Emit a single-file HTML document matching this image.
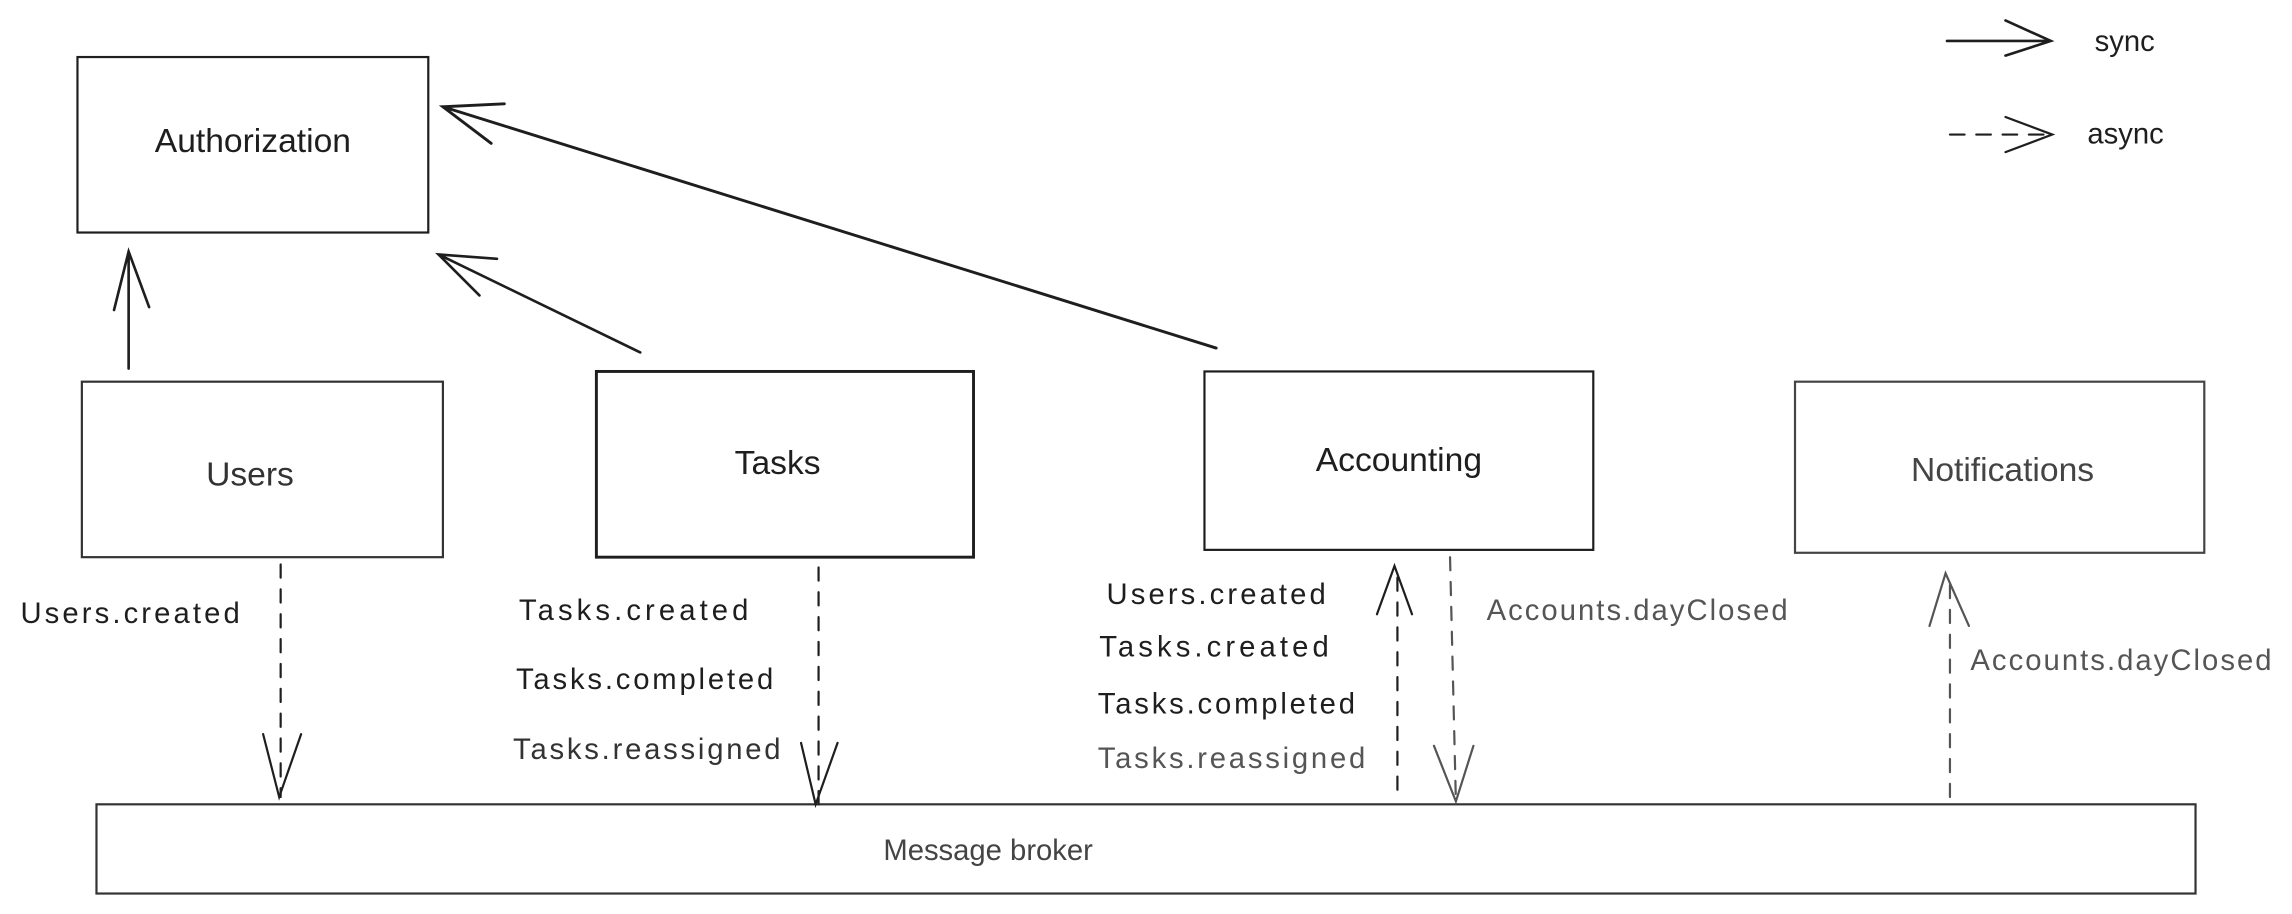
<!DOCTYPE html>
<html><head><meta charset="utf-8"><style>
html,body{margin:0;padding:0;background:#fff;}
svg{display:block}
text{font-family:"Liberation Sans",sans-serif;}
</style></head><body>
<svg width="2292" height="914" viewBox="0 0 1568 625" preserveAspectRatio="none" xmlns="http://www.w3.org/2000/svg">
<g fill="none" stroke="#1e1e1e" stroke-width="1.5" stroke-linecap="round">
<rect x="53" y="39" width="240" height="120"/>
<rect x="56" y="261" width="247" height="120" stroke="#333"/>
<rect x="408" y="254" width="258" height="127" stroke-width="2"/>
<rect x="824" y="254" width="266" height="122"/>
<rect x="1228" y="261" width="280" height="117" stroke="#444"/>
<rect x="66" y="550" width="1436" height="61" stroke="#333"/>
<path d="M88 252 L88 172 M78 212 L88 172 L102 210" stroke-width="1.8"/>
<path d="M438 241 L300 174 M340 177 L300 174 L328 202" stroke-width="1.8"/>
<path d="M832 238 L303 73 M345 71 L303 73 L336 98" stroke-width="2"/>
<g stroke-dasharray="9 8">
<path d="M192 386 L192 545"/>
<path d="M560 388 L560 550"/>
<path d="M956 540 L956 392"/>
<path d="M992 381 L996 548" stroke="#555"/>
<path d="M1334 545 L1334 394" stroke="#555"/>
<path d="M1334 92 L1402 92" stroke-dasharray="10 8"/>
</g>
<path d="M180 502 L191 545 L206 502"/>
<path d="M548 508 L558 550 L573 508"/>
<path d="M942 420 L954 387 L966 420"/>
<path d="M981 510 L996 548 L1008 510" stroke="#555"/>
<path d="M1320 428 L1331 392 L1347 428" stroke="#555"/>
<path d="M1332 28 L1402 28 M1372 14 L1403 28 L1372 38" stroke-width="1.8"/>
<path d="M1372 80 L1404 92 L1372 104"/>
</g>
<g font-size="20" fill="#1e1e1e">
<text x="173" y="104" text-anchor="middle" font-size="23">Authorization</text>
<text x="171" y="332" text-anchor="middle" fill="#333" font-size="23">Users</text>
<text x="532" y="324" text-anchor="middle" font-size="23">Tasks</text>
<text x="957" y="322" text-anchor="middle" font-size="23">Accounting</text>
<text x="1370" y="329" text-anchor="middle" fill="#444" font-size="23">Notifications</text>
<text x="676" y="588" text-anchor="middle" fill="#444">Message broker</text>
<text x="1433" y="35">sync</text>
<text x="1428" y="98">async</text>
<text x="14" y="426" textLength="150">Users.created</text>
<text x="355" y="424" textLength="157">Tasks.created</text>
<text x="353" y="471" textLength="176">Tasks.completed</text>
<text x="351" y="519" fill="#333" textLength="183">Tasks.reassigned</text>
<text x="757" y="413" textLength="150">Users.created</text>
<text x="752" y="449" textLength="157">Tasks.created</text>
<text x="751" y="488" textLength="176">Tasks.completed</text>
<text x="751" y="525" fill="#555" textLength="183">Tasks.reassigned</text>
<text x="1017" y="424" fill="#555" textLength="206">Accounts.dayClosed</text>
<text x="1348" y="458" fill="#555" textLength="206">Accounts.dayClosed</text>
</g>
</svg>
</body></html>
